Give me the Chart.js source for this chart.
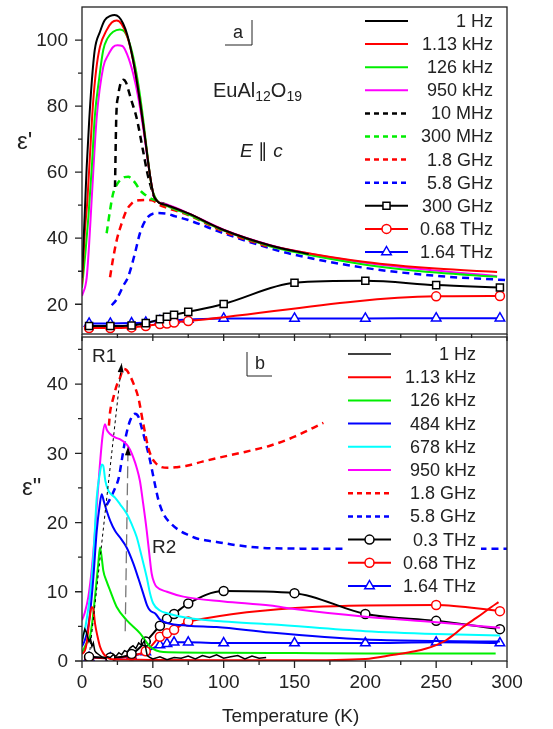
<!DOCTYPE html>
<html>
<head>
<meta charset="utf-8">
<script src="https://cdn.jsdelivr.net/npm/chart.js@4.4.1/dist/chart.umd.min.js"></script>
<style>
  body { margin: 0; background: #fff; }
  #wrap { position: relative; width: 553px; height: 729px; }
  canvas { position: absolute; left: 0; }
  #top { top: 0; }
  #bot { top: 330px; }
</style>
</head>
<body>
<div id="wrap">
  <canvas id="bot" width="553" height="399"></canvas>
  <canvas id="top" width="553" height="345"></canvas>
</div>
<script>
const FONT = "'Liberation Sans', Arial, sans-serif";

// axis ticks
const xTicks = [0, 50, 100, 150, 200, 250, 300];
const xMinor = [25, 75, 125, 175, 225, 275];
const yTicksA = [20, 40, 60, 80, 100];
const yMinorA = [30, 50, 70, 90];
const yTicksB = [0, 10, 20, 30, 40];
const yMinorB = [5, 15, 25, 35, 45];

// ---- panel a : eps' ----
const a1HzT = [0, 2, 3.3, 5, 6.8, 9, 12.7, 16, 20, 23, 26, 29, 32, 36, 40, 44, 48, 51, 60, 75, 100, 133, 160];
const a1Hz  = [28, 48, 61.5, 75, 86.8, 97, 102.5, 106, 107.3, 107.6, 107, 105, 101.5, 94, 84, 72, 59, 52.5, 50, 47.5, 42.5, 37.8, 35.2];
const a113kT = [0, 2, 3.8, 6, 7.8, 10, 12.7, 17.4, 21, 24.5, 28, 32, 36, 40, 44, 48, 51, 60, 75, 100, 133, 150, 200, 250, 293];
const a113k  = [26, 42, 51.5, 68, 80.9, 91, 98, 103, 105.3, 105.9, 104.8, 101, 94, 84, 72, 59, 52.5, 50, 47.5, 42.5, 37.8, 36.2, 32.8, 30.8, 29.8];
const a126kT = [0, 2.5, 4.5, 7, 9, 12, 15, 18, 22, 26.8, 30, 34, 38, 42, 46, 49, 52, 60, 75, 100, 133, 150, 200, 250, 293];
const a126k  = [25, 36, 46.4, 62, 76.7, 88, 97, 100.5, 102.5, 103.2, 102.5, 98.5, 91, 80, 66, 56, 52, 49.8, 47.2, 42.3, 37.5, 35.8, 32, 29.6, 28.3];
const a950kT = [0, 3.3, 5, 6.8, 10.4, 15, 18.5, 22, 25, 28.5, 32, 36, 40, 44, 48, 51, 60, 75, 100, 133, 150, 200, 250, 293];
const a950k  = [22.5, 28, 38, 51.5, 76.7, 91.8, 95.5, 97.9, 98.4, 98.2, 95.5, 90, 82, 71, 59, 52.5, 50.2, 47.6, 42.6, 37.9, 36.2, 32.6, 30.2, 28.5];
const a10MT = [23.3, 24.2, 25.5, 26.6, 28, 29.4, 31, 33, 34.8, 38.4, 43, 46, 48.7, 51, 60];
const a10M  = [55.5, 76.7, 83, 85.8, 87.5, 88, 87.2, 84.5, 81.8, 76.7, 66.7, 60, 55.5, 52.5, 50];
const a300MT = [17.4, 20, 22, 25, 28, 30, 32.7, 35, 38, 41, 45, 48.7, 52, 60, 75, 100];
const a300M  = [41.5, 49, 53.6, 56.5, 58, 58.5, 58.6, 58, 56.5, 54.5, 53, 52, 51.5, 49.8, 47.2, 42.3];
const a18GT = [19.8, 22, 24.5, 28, 31.5, 35, 38, 41, 45, 49.4, 55, 60, 75, 100, 133];
const a18G  = [28.2, 34, 39.4, 44.5, 48.5, 50.5, 51.3, 51.5, 51.6, 51.5, 50, 49.2, 47, 42, 37.2];
const a58GT = [21, 24, 26.6, 29, 32.5, 37.3, 40.9, 45.7, 52.7, 59, 66, 75, 100, 133, 150, 200, 250, 300];
const a58G  = [19.7, 21.2, 23.3, 25.5, 28.2, 35.3, 41.5, 46, 47.6, 47.5, 46.6, 45.5, 41.5, 36.9, 35, 31, 28.6, 27.3];
const a300GT = [5, 20, 35, 45, 55, 60, 65, 75, 100, 150, 200, 250, 295];
const a300G  = [13.4, 13.4, 13.6, 14.3, 15.5, 16.2, 16.8, 17.7, 20.1, 26.5, 27.1, 25.8, 25.1];
const a068TT = [5, 20, 35, 45, 55, 60, 65, 75, 250, 295];
const a068T  = [12.8, 12.8, 13, 13.4, 14, 14.2, 14.5, 14.9, 22.4, 22.5];
const a164TT = [5, 20, 35, 45, 55, 60, 65, 75, 100, 150, 200, 250, 295];
const a164T  = [14.2, 14.2, 14.3, 14.5, 15, 15.1, 15.2, 15.4, 15.7, 15.7, 15.7, 15.8, 15.8];

// ---- panel b : eps'' ----
const b1HzT = [0, 1, 2, 3, 4, 5, 6, 7, 8, 9, 10, 12, 14, 16, 18, 20, 22, 24, 26, 28, 30, 32, 34, 36, 38, 40, 42, 44, 46, 48, 50, 55, 60, 65, 70, 75, 80, 85, 90, 95, 100, 105, 110, 115, 120, 125, 130];
const b1Hz  = [2.5, 3.8, 4.6, 4.2, 3.5, 2.8, 3.2, 2.1, 2.6, 1.5, 1.2, 0.9, 0.6, 0.4, 0.6, 0.5, 0.9, 0.7, 1.2, 0.9, 1.5, 1.3, 1.9, 2.2, 1.8, 2.6, 2.3, 2.9, 0.8, 0.5, 0.3, 0.6, 0.2, 0.5, 0.4, 0.7, 0.3, 0.8, 0.5, 0.9, 0.4, 0.6, 0.8, 0.3, 0.7, 0.4, 0.5];
const b113kT = [0, 2, 3.3, 5, 6.8, 8, 9.2, 11, 12.7, 15, 17.4, 20, 30, 50, 100, 150, 200, 220, 235, 243, 250, 257, 263, 269, 276, 283, 289, 294];
const b113k  = [1, 1.5, 2.6, 5.5, 7.8, 7.5, 5.4, 3.5, 2.1, 1.1, 0.6, 0.3, 0.2, 0.15, 0.1, 0.1, 0.3, 0.9, 1.4, 1.8, 2.3, 3, 3.9, 4.9, 5.9, 6.9, 7.8, 8.5];
const b126kT = [0, 1, 3, 5.6, 7.5, 9.2, 11.5, 12.7, 14, 15, 17.4, 19.8, 24.5, 31.5, 41, 48, 57.4, 100, 150, 200, 250, 292];
const b126k  = [1.2, 1.6, 2.5, 3.5, 6, 9.3, 14.1, 16.4, 14.8, 13.1, 11.5, 10.2, 7.8, 5.9, 4, 2.1, 1.3, 1.2, 1.15, 1.1, 1.1, 1.1];
const b484kT = [0, 2, 4, 6, 8, 10.4, 12.5, 13.9, 15.5, 17.4, 20, 23.3, 27, 31.5, 36.2, 40, 43.3, 46, 48, 52, 55, 60, 75, 95, 133, 200, 250, 295];
const b484k  = [2.1, 3, 4.5, 7.5, 12, 18.8, 22.5, 24.1, 23, 21.7, 20.2, 18.8, 17.8, 16.4, 14.1, 11.8, 9.7, 8, 7.3, 6.8, 6.0, 5.5, 5.1, 4.9, 4.1, 3.1, 2.9, 2.8];
const b678kT = [0, 2, 4, 5.6, 8, 10.4, 12.5, 14, 15, 16.5, 18.6, 21, 23.3, 27, 31.5, 35, 38.6, 42, 45.7, 48, 50.3, 55, 60, 75, 100, 133, 200, 250, 295];
const b678k  = [3, 4.5, 7, 9.3, 15, 23.6, 27, 28.4, 28.2, 26, 24.6, 24, 23.6, 22.6, 21.3, 19.8, 17.9, 15.2, 12.1, 9.8, 8.3, 7.3, 6.9, 6.2, 5.7, 5.3, 4.3, 3.9, 3.7];
const b950kT = [0, 2, 4.5, 7, 9.2, 11, 12.7, 14.5, 16.2, 17.5, 19.8, 23.3, 27, 31.5, 34, 36.2, 38.5, 40.9, 43, 45.7, 47.5, 49.2, 51, 52.7, 60, 71.5, 100, 133, 150, 200, 250, 295];
const b950k  = [5.9, 7, 9.3, 13.5, 18.8, 24, 28.5, 32.5, 34.2, 33.4, 32.8, 32.3, 32, 31.3, 30.5, 29.4, 28, 26, 23, 18.8, 15.5, 12.6, 11.3, 10.7, 10, 9.3, 8.6, 8, 7.5, 6.4, 5.6, 4.8];
const b18GT = [19, 19.8, 22.1, 24.5, 26.8, 29.2, 31.5, 33.9, 36.5, 39.8, 43.3, 46.8, 49, 51.5, 55, 60.9, 67, 73.9, 85, 97.4, 115, 132.7, 150, 170.4];
const b18G  = [34, 35.9, 38, 39.8, 40.9, 42.2, 42, 41.2, 40, 38, 34.2, 30.8, 29.5, 28.7, 28.1, 27.9, 28, 28.2, 28.8, 29.4, 30.2, 31.1, 32.4, 34.4];
const b58GT = [17.4, 20, 23, 26, 28, 31, 33.9, 37.4, 40, 42.1, 45, 48, 51.5, 54, 57.4, 63, 69.2, 75, 81, 88, 95, 110, 133, 200, 250, 300];
const b58G  = [22.5, 23.5, 24.8, 26.5, 28.9, 32.5, 34.7, 35.7, 35.2, 33.7, 31.5, 29, 25.5, 23.2, 21.3, 19.8, 18.8, 18.2, 17.7, 17.4, 17.2, 16.7, 16.3, 16.2, 16.2, 16.2];
const b03TT = [5, 20, 35, 45, 55, 60, 65, 75, 100, 150, 200, 250, 295];
const b03T  = [0.6, 0.5, 1, 2.8, 5.1, 6.1, 6.8, 8.3, 10.1, 9.8, 6.8, 5.8, 4.6];
const b068TT = [5, 20, 35, 45, 55, 60, 65, 75, 250, 295];
const b068T  = [0.5, 0.4, 0.8, 1.4, 3.5, 4, 4.5, 5.7, 8.1, 7.2];
const b164TT = [5, 20, 35, 45, 55, 60, 65, 75, 100, 150, 200, 250, 295];
const b164T  = [0.5, 0.4, 0.7, 1.3, 2.3, 2.5, 2.7, 2.7, 2.6, 2.6, 2.6, 2.7, 2.6];

// arrows in panel b (data units: [T, eps''])
const arrowR1 = [[5.6, 1.6], [28, 43]];
const arrowR2 = [[30.5, 4.3], [32.5, 31]];

function line(label, T, v, color, opt = {}) {
  return {
    label,
    data: T.map((t, i) => ({ x: t, y: v[i] })),
    borderColor: color,
    backgroundColor: '#fff',
    borderWidth: opt.width || 2,
    borderDash: opt.dash || [],
    pointStyle: opt.marker || 'circle',
    marker: opt.marker || null,
    pointRadius: opt.marker ? (opt.size || 4) : 0,
    pointBorderWidth: 1.5,
    pointBackgroundColor: '#fff',
    pointBorderColor: color,
    cubicInterpolationMode: opt.straight ? 'default' : 'monotone',
    tension: 0,
    fill: false
  };
}

const DASH = [7, 5];

const dsA = [
  line('1 Hz', a1HzT, a1Hz, '#000'),
  line('1.13 kHz', a113kT, a113k, '#ff0000'),
  line('126 kHz', a126kT, a126k, '#00ee00'),
  line('950 kHz', a950kT, a950k, '#ff00ff'),
  line('10 MHz', a10MT, a10M, '#000', { dash: DASH, width: 2.5 }),
  line('300 MHz', a300MT, a300M, '#00ee00', { dash: DASH, width: 2.5 }),
  line('1.8 GHz', a18GT, a18G, '#ff0000', { dash: DASH, width: 2.5 }),
  line('5.8 GHz', a58GT, a58G, '#0000ff', { dash: DASH, width: 2.5 }),
  line('300 GHz', a300GT, a300G, '#000', { marker: 'rect', size: 5 }),
  line('0.68 THz', a068TT, a068T, '#ff0000', { marker: 'circle', size: 4.5 }),
  line('1.64 THz', a164TT, a164T, '#0000ff', { marker: 'triangle', size: 5.5 })
];

const dsB = [
  line('1 Hz', b1HzT, b1Hz, '#000', { straight: true, width: 1.5 }),
  line('1.13 kHz', b113kT, b113k, '#ff0000'),
  line('126 kHz', b126kT, b126k, '#00ee00'),
  line('484 kHz', b484kT, b484k, '#0000ff'),
  line('678 kHz', b678kT, b678k, '#00ffff'),
  line('950 kHz', b950kT, b950k, '#ff00ff'),
  line('1.8 GHz', b18GT, b18G, '#ff0000', { dash: DASH, width: 2.5 }),
  line('5.8 GHz', b58GT, b58G, '#0000ff', { dash: DASH, width: 2.5 }),
  line('0.3 THz', b03TT, b03T, '#000', { marker: 'circle', size: 4.5 }),
  line('0.68 THz', b068TT, b068T, '#ff0000', { marker: 'circle', size: 4.5 }),
  line('1.64 THz', b164TT, b164T, '#0000ff', { marker: 'triangle', size: 5.5 })
];

function marker(ctx, style, r, x, y) {
  ctx.beginPath();
  if (style === 'rect') {
    const s = r * Math.SQRT1_2;
    ctx.rect(x - s, y - s, 2 * s, 2 * s);
  } else if (style === 'triangle') {
    ctx.moveTo(x, y - r);
    ctx.lineTo(x + r * 0.866, y + r * 0.5);
    ctx.lineTo(x - r * 0.866, y + r * 0.5);
    ctx.closePath();
  } else {
    ctx.arc(x, y, r, 0, Math.PI * 2);
  }
  ctx.fill();
  ctx.stroke();
}

function rich(ctx, x, y, parts) {
  ctx.textAlign = 'left';
  ctx.textBaseline = 'middle';
  for (const p of parts) {
    ctx.font = (p.italic ? 'italic ' : '') + p.size + 'px ' + FONT;
    ctx.fillText(p.t, x, y + (p.dy || 0));
    x += ctx.measureText(p.t).width;
  }
}

function panelPlugin(cfg) {
  return {
    id: 'panel',
    afterDatasetsDraw(chart) {
      const { ctx, chartArea: a, scales: { x, y } } = chart;
      const oy = cfg.offset;
      ctx.save();
      ctx.setLineDash([]);

      // legend (white box first where needed)
      const L = cfg.legend;
      if (L.bg) {
        ctx.fillStyle = '#fff';
        ctx.fillRect(L.bg[0], L.bg[1] - oy, L.bg[2], L.bg[3]);
      }
      chart.data.datasets.forEach((d, i) => {
        const yy = L.y0 + i * L.dy - oy;
        ctx.strokeStyle = d.borderColor;
        ctx.lineWidth = d.borderWidth;
        ctx.setLineDash(d.borderDash.length ? [5, 4] : []);
        ctx.beginPath();
        ctx.moveTo(L.x1, yy);
        ctx.lineTo(L.x2, yy);
        ctx.stroke();
        ctx.setLineDash([]);
        if (d.marker) {
          ctx.fillStyle = '#fff';
          ctx.lineWidth = 1.5;
          marker(ctx, d.marker, d.pointRadius, (L.x1 + L.x2) / 2, yy);
        }
        ctx.fillStyle = '#222';
        ctx.font = '18px ' + FONT;
        ctx.textAlign = 'right';
        ctx.textBaseline = 'middle';
        ctx.fillText(d.label, L.textRight, yy + 1);
      });

      // arrows
      (cfg.arrows || []).forEach(ar => {
        const x1 = x.getPixelForValue(ar.pts[0][0]), y1 = y.getPixelForValue(ar.pts[0][1]);
        const x2 = x.getPixelForValue(ar.pts[1][0]), y2 = y.getPixelForValue(ar.pts[1][1]);
        ctx.strokeStyle = ar.color;
        ctx.fillStyle = '#000';
        ctx.lineWidth = ar.width;
        ctx.setLineDash(ar.dash);
        ctx.beginPath();
        ctx.moveTo(x1, y1);
        ctx.lineTo(x2, y2);
        ctx.stroke();
        ctx.setLineDash([]);
        const ang = Math.atan2(y2 - y1, x2 - x1);
        ctx.beginPath();
        ctx.moveTo(x2, y2);
        ctx.lineTo(x2 - 9 * Math.cos(ang) + 3 * Math.sin(ang), y2 - 9 * Math.sin(ang) - 3 * Math.cos(ang));
        ctx.lineTo(x2 - 9 * Math.cos(ang) - 3 * Math.sin(ang), y2 - 9 * Math.sin(ang) + 3 * Math.cos(ang));
        ctx.closePath();
        ctx.fill();
      });

      // frame and ticks
      ctx.strokeStyle = '#222';
      ctx.lineWidth = 1.3;
      ctx.strokeRect(a.left, a.top, a.right - a.left, a.bottom - a.top);
      ctx.beginPath();
      const tk = (px, py, dx, dy) => { ctx.moveTo(px, py); ctx.lineTo(px + dx, py + dy); };
      xTicks.forEach(v => tk(x.getPixelForValue(v), a.bottom, 0, 7));
      xMinor.forEach(v => tk(x.getPixelForValue(v), a.bottom, 0, 4));
      cfg.yTicks.forEach(v => tk(a.left, y.getPixelForValue(v), -7, 0));
      cfg.yMinor.forEach(v => tk(a.left, y.getPixelForValue(v), -4, 0));
      ctx.stroke();

      // tick labels
      ctx.fillStyle = '#222';
      ctx.font = '19px ' + FONT;
      ctx.textAlign = 'right';
      ctx.textBaseline = 'middle';
      cfg.yTicks.forEach(v => ctx.fillText(String(v), a.left - 14, y.getPixelForValue(v) + 1));
      if (cfg.xLabels) {
        ctx.textAlign = 'center';
        xTicks.forEach(v => ctx.fillText(String(v), x.getPixelForValue(v), 683 - oy));
      }

      // corner marks ("a" / "b")
      ctx.lineWidth = 1;
      ctx.beginPath();
      cfg.marks.forEach(m => { ctx.moveTo(m[0], m[1] - oy); ctx.lineTo(m[2], m[3] - oy); });
      ctx.stroke();

      // texts
      cfg.texts.forEach(t => rich(ctx, t.x, t.y - oy, t.parts));
      ctx.restore();
    }
  };
}

function makeChart(id, datasets, cfg) {
  return new Chart(document.getElementById(id), {
    type: 'line',
    data: { datasets },
    options: {
      responsive: false,
      animation: false,
      devicePixelRatio: 1,
      layout: { padding: cfg.padding },
      plugins: { legend: { display: false }, tooltip: { enabled: false } },
      scales: {
        x: {
          type: 'linear', min: 0, max: 300,
          grid: { display: false, drawTicks: false },
          border: { display: false },
          afterFit: s => { s.height = cfg.xHeight; },
          ticks: { display: false }
        },
        y: {
          type: 'linear', min: cfg.yMin, max: cfg.yMax,
          grid: { display: false, drawTicks: false },
          border: { display: false },
          afterFit: s => { s.width = 82; },
          ticks: { display: false }
        }
      }
    },
    plugins: [panelPlugin(cfg)]
  });
}

makeChart('top', dsA, {
  offset: 0,
  padding: { top: 7, right: 46, left: 0, bottom: 0 },
  xHeight: 11, xLabels: false,
  yMin: 11, yMax: 110, yTicks: yTicksA, yMinor: yMinorA,
  legend: { x1: 365, x2: 408, textRight: 493, y0: 21, dy: 23.1 },
  marks: [[225, 45, 252, 45], [252, 20, 252, 45]],
  texts: [
    { x: 233, y: 33, parts: [{ t: 'a', size: 18 }] },
    { x: 213, y: 91, parts: [{ t: 'EuAl', size: 20 }, { t: '12', size: 14, dy: 6 }, { t: 'O', size: 20 }, { t: '19', size: 14, dy: 6 }] },
    { x: 240, y: 152, parts: [{ t: 'E', size: 19, italic: true }, { t: ' \u2225 ', size: 19 }, { t: 'c', size: 19, italic: true }] },
    { x: 17, y: 142, parts: [{ t: "\u03b5'", size: 24 }] }
  ]
});

makeChart('bot', dsB, {
  offset: 330,
  padding: { top: 4, right: 46, left: 0, bottom: 0 },
  xHeight: 68, xLabels: true,
  yMin: 0, yMax: 46.8, yTicks: yTicksB, yMinor: yMinorB,
  legend: { x1: 348, x2: 391, textRight: 476, y0: 354, dy: 23.2, bg: [343, 342, 138, 256] },
  arrows: [
    { pts: arrowR1, color: '#000', width: 1, dash: [3, 3] },
    { pts: arrowR2, color: '#777', width: 1.3, dash: [12, 5] }
  ],
  marks: [[247, 352, 247, 376], [247, 376, 272, 376]],
  texts: [
    { x: 255, y: 364, parts: [{ t: 'b', size: 18 }] },
    { x: 92, y: 357, parts: [{ t: 'R1', size: 19 }] },
    { x: 152, y: 548, parts: [{ t: 'R2', size: 19 }] },
    { x: 22, y: 488, parts: [{ t: '\u03b5"', size: 24 }] },
    { x: 222, y: 717, parts: [{ t: 'Temperature (K)', size: 19 }] }
  ]
});
</script>
</body>
</html>
